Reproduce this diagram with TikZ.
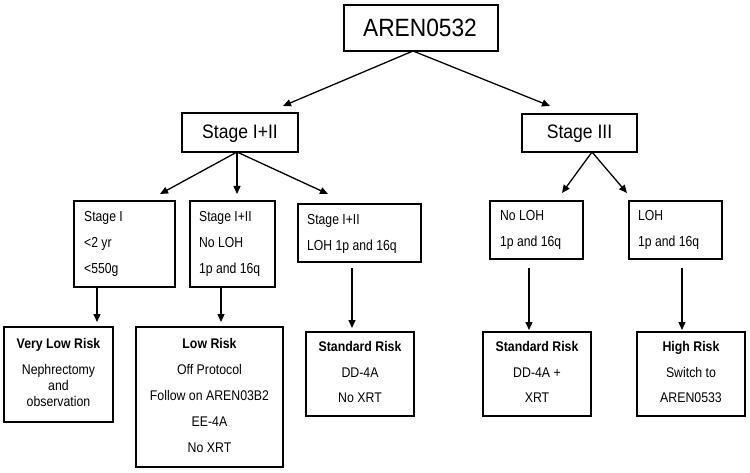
\documentclass[tikz,border=0pt]{standalone}
\usepackage{fontspec}
\setmainfont{Liberation Sans}
\newfontfamily\titlefont[FakeStretch=0.91]{Liberation Sans}
\newfontfamily\stagefont[FakeStretch=0.9]{Liberation Sans}
\newfontfamily\smallfont[FakeStretch=0.84]{Liberation Sans}
\newfontfamily\riskfont[FakeStretch=0.88]{Liberation Sans}
\usetikzlibrary{arrows.meta}
\begin{document}
\begin{tikzpicture}[x=1pt,y=-1pt,
  box/.style={draw, line width=1.8pt, inner sep=0pt, rectangle},
  conn/.style={line width=1.3pt, -{Triangle[length=8pt,width=7pt]}},
  ttl/.style={font=\titlefont\fontsize{25}{28}\selectfont, anchor=base, inner sep=0pt},
  stg/.style={font=\stagefont\fontsize{19.5}{22}\selectfont, anchor=base, inner sep=0pt},
  sml/.style={font=\smallfont\fontsize{14.5}{17}\selectfont, anchor=base west, inner sep=0pt},
  rsk/.style={font=\riskfont\fontsize{14}{16}\selectfont, anchor=base, inner sep=0pt},
  rskb/.style={font=\riskfont\bfseries\fontsize{14}{16}\selectfont, anchor=base, inner sep=0pt}]
\useasboundingbox[fill=white] (0,0) rectangle (750,473);

% boxes
\node[box, minimum width=154pt, minimum height=46pt] (top) at (421,28) {};
\node[box, minimum width=116pt, minimum height=39pt] (s12) at (240,132.5) {};
\node[box, minimum width=115pt, minimum height=38pt] (s3) at (579.5,133) {};
\node[box, minimum width=101pt, minimum height=86pt] (b1) at (124.5,244) {};
\node[box, minimum width=85pt, minimum height=86pt] (b2) at (232.5,244) {};
\node[box, minimum width=123pt, minimum height=58pt] (b3) at (359.5,233) {};
\node[box, minimum width=93pt, minimum height=58pt] (b4) at (536.5,230) {};
\node[box, minimum width=93pt, minimum height=58pt] (b5) at (675.5,230) {};
\node[box, minimum width=109pt, minimum height=95pt] (r1) at (58.5,374.5) {};
\node[box, minimum width=147pt, minimum height=140pt] (r2) at (209.5,397) {};
\node[box, minimum width=108pt, minimum height=84pt] (r3) at (360,374) {};
\node[box, minimum width=108pt, minimum height=84pt] (r4) at (537,374) {};
\node[box, minimum width=108pt, minimum height=84pt] (r5) at (691,374) {};

% texts
\node[ttl] (tTop) at (420,37) {AREN0532};
\node[stg] (tS12) at (240,139) {Stage I+II};
\node[stg] (tS3) at (579.5,139) {Stage III};

\node[sml] (t1a) at (84,222) {Stage I};
\node[sml] (t1b) at (84,248) {<2 yr};
\node[sml] (t1c) at (84,274) {<550g};
\node[sml] (t2a) at (199,222) {Stage I+II};
\node[sml] (t2b) at (199,248) {No LOH};
\node[sml] (t2c) at (199,274) {1p and 16q};
\node[sml] (t3a) at (307,225) {Stage I+II};
\node[sml] (t3b) at (307,251) {LOH 1p and 16q};
\node[sml] (t4a) at (500,221) {No LOH};
\node[sml] (t4b) at (500,247) {1p and 16q};
\node[sml] (t5a) at (638,221) {LOH};
\node[sml] (t5b) at (638,247) {1p and 16q};

\node[rskb] (r1a) at (58.5,348) {Very Low Risk};
\node[rsk] (r1b) at (58.5,374) {Nephrectomy};
\node[rsk] (r1c) at (58.5,390) {and};
\node[rsk] (r1d) at (58.5,406) {observation};

\node[rskb] (r2a) at (209.5,348) {Low Risk};
\node[rsk] (r2b) at (209.5,374) {Off Protocol};
\node[rsk] (r2c) at (209.5,400) {Follow on AREN03B2};
\node[rsk] (r2d) at (209.5,426) {EE-4A};
\node[rsk] (r2e) at (209.5,452) {No XRT};

\node[rskb] (r3a) at (360,351) {Standard Risk};
\node[rsk] (r3b) at (360,377) {DD-4A};
\node[rsk] (r3c) at (360,402) {No XRT};

\node[rskb] (r4a) at (537,351) {Standard Risk};
\node[rsk] (r4b) at (537,377) {DD-4A +};
\node[rsk] (r4c) at (537,402) {XRT};

\node[rskb] (r5a) at (691,351) {High Risk};
\node[rsk] (r5b) at (691,377) {Switch to};
\node[rsk] (r5c) at (691,402) {AREN0533};

% connector end points
\coordinate (topS) at (413,51);
\coordinate (tipS12) at (283,106);
\coordinate (tipS3) at (550,106);
\coordinate (s12S) at (237,152);
\coordinate (tip1) at (160,194);
\coordinate (tip2) at (237,194);
\coordinate (tip3) at (328,194);
\coordinate (s3S) at (592,152);
\coordinate (tip4) at (562,193);
\coordinate (tip5) at (627,193);
\coordinate (b1S) at (97,287);
\coordinate (b2S) at (221,287);
\coordinate (b3S) at (352,268);
\coordinate (b4S) at (529,268);
\coordinate (b5S) at (682,268);
\coordinate (tipR1) at (97,322);
\coordinate (tipR2) at (221,322);
\coordinate (tipR3) at (352,328);
\coordinate (tipR4) at (529,330);
\coordinate (tipR5) at (682,330);

% connectors
\draw[conn] (topS) -- (tipS12);
\draw[conn] (topS) -- (tipS3);
\draw[conn] (s12S) -- (tip1);
\draw[conn] (s12S) -- (tip2);
\draw[conn] (s12S) -- (tip3);
\draw[conn] (s3S) -- (tip4);
\draw[conn] (s3S) -- (tip5);
\draw[conn] (b1S) -- (tipR1);
\draw[conn] (b2S) -- (tipR2);
\draw[conn] (b3S) -- (tipR3);
\draw[conn] (b4S) -- (tipR4);
\draw[conn] (b5S) -- (tipR5);
\end{tikzpicture}
\end{document}
